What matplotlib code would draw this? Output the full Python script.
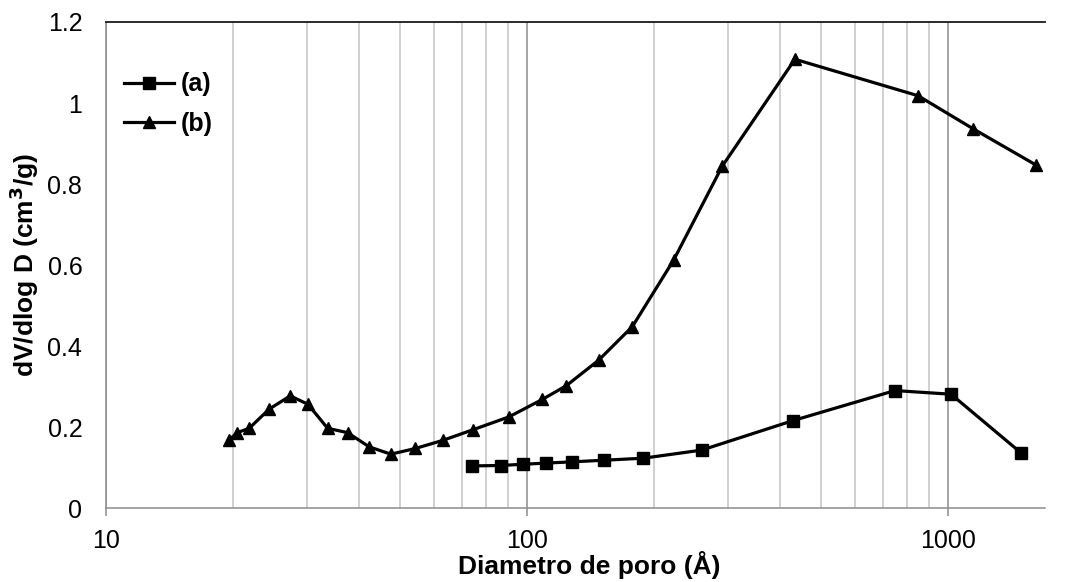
import matplotlib
matplotlib.use("Agg")
import matplotlib.pyplot as plt
from matplotlib.ticker import LogLocator, FixedLocator, NullFormatter

plt.rcParams['font.family'] = ['Liberation Sans', 'DejaVu Sans']

# pore diameter (Å) and dV/dlog D (cm3/g) for both samples
d_a = [73.9, 86.6, 97.7, 111, 128, 152, 189, 260, 429, 748, 1017, 1488]
v_a = [0.104, 0.105, 0.108, 0.111, 0.114, 0.118, 0.123, 0.143, 0.216, 0.290, 0.281, 0.137]

d_b = [19.6, 20.5, 21.9, 24.4, 27.4, 30.2, 33.6, 37.5, 42.2, 47.5, 54.3, 63.1,
       74.3, 90.6, 108.7, 124, 148, 178, 223, 291, 433, 849, 1149, 1618]
v_b = [0.168, 0.186, 0.197, 0.244, 0.277, 0.256, 0.197, 0.186, 0.151, 0.133, 0.147, 0.167,
       0.193, 0.225, 0.268, 0.302, 0.365, 0.448, 0.612, 0.844, 1.108, 1.018, 0.936, 0.847]

labels = ['(a)', '(b)']
y_ticks = [0, 0.2, 0.4, 0.6, 0.8, 1, 1.2]
y_ticklabels = ['0', '0.2', '0.4', '0.6', '0.8', '1', '1.2']

fig = plt.figure(figsize=(10.65, 5.82), dpi=100)
ax = fig.add_axes([0.0995, 0.1271, 0.8817, 0.8351])

ax.set_xscale('log')
ax.set_xlim(10, 1700)
ax.set_ylim(0, 1.2)

# vertical grid: light minor lines, darker decade lines
ax.xaxis.set_minor_locator(LogLocator(base=10, subs=range(2, 10)))
ax.xaxis.set_minor_formatter(NullFormatter())
ax.xaxis.set_major_locator(FixedLocator([10, 100, 1000]))
ax.set_xticklabels(['10', '100', '1000'])
ax.grid(True, which='minor', axis='x', color='#c4c4c4', lw=1.1)
ax.grid(True, which='major', axis='x', color='#8c8c8c', lw=1.1)
ax.set_axisbelow(True)

ax.plot(d_a, v_a, color='black', lw=2.3, marker='s', ms=8, label=labels[0], zorder=3)
ax.plot(d_b, v_b, color='black', lw=2.3, marker='^', ms=8, label=labels[1], zorder=3)

ax.set_yticks(y_ticks)
ax.set_yticklabels(y_ticklabels)
ax.tick_params(axis='y', length=0, pad=17, labelsize=18)
ax.tick_params(axis='x', which='major', length=6, width=1.1, color='#8c8c8c', pad=9, labelsize=18)
ax.tick_params(axis='x', which='minor', length=0)

for side in ['left', 'bottom']:
    ax.spines[side].set_color('#8c8c8c')
    ax.spines[side].set_linewidth(1.1)
ax.spines['right'].set_visible(False)
ax.spines['top'].set_color('#1a1a1a')
ax.spines['top'].set_linewidth(1.3)

ax.set_xlabel('Diametro de poro (Å)', fontsize=19, fontweight='bold', labelpad=0)
ax.xaxis.set_label_coords(0.515, -0.089)
ax.set_ylabel('dV/dlog D (cm$^\\mathbf{3}$/g)', fontsize=19, fontweight='bold', labelpad=5)

leg = ax.legend(loc='center left', bbox_to_anchor=(0.0086, 0.831), frameon=False,
                prop={'weight': 'bold', 'size': 18}, handlelength=2.0,
                handletextpad=0.25, labelspacing=0.62, borderaxespad=0)

fig.savefig('out.png', dpi=100)
